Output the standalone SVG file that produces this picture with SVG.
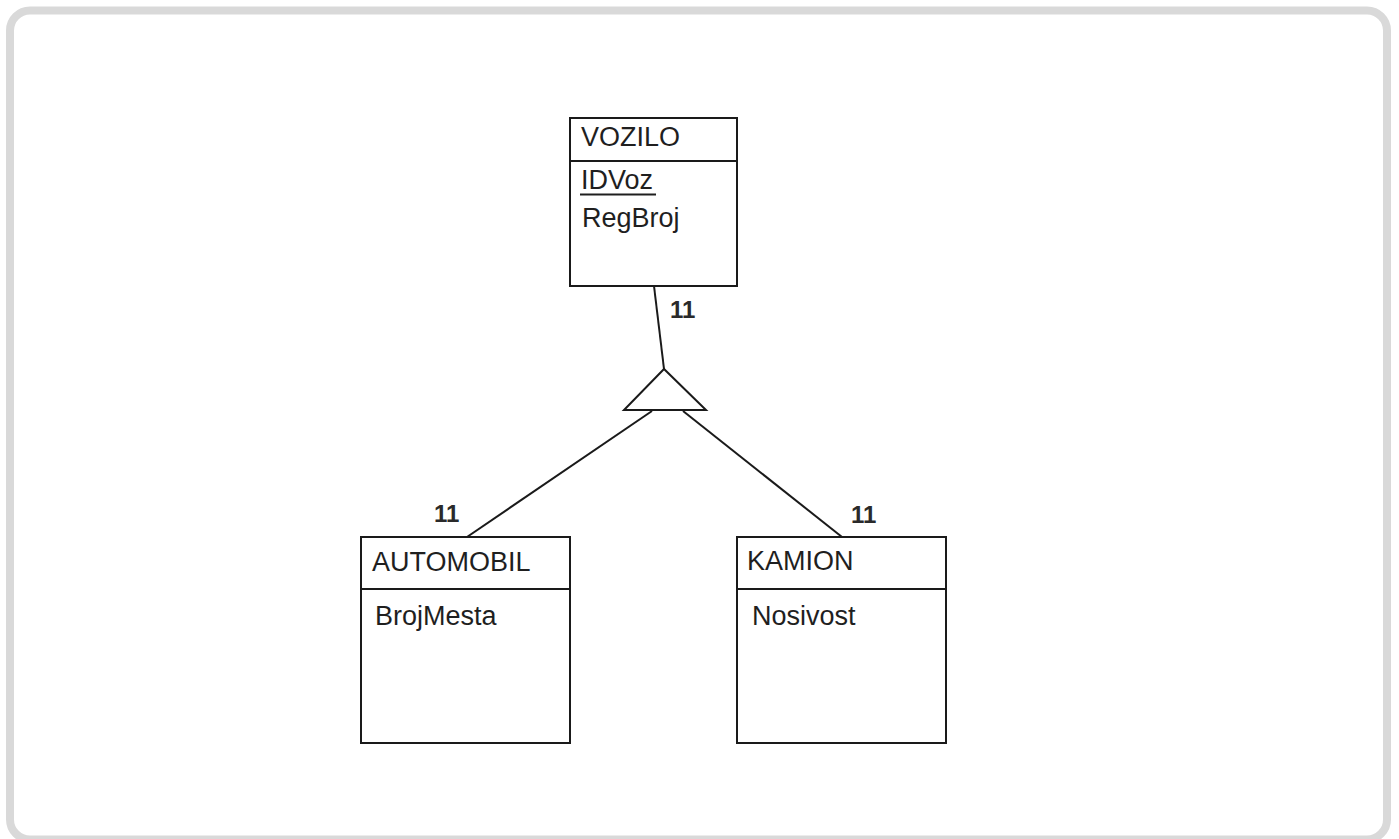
<svg xmlns="http://www.w3.org/2000/svg" width="1399" height="839" viewBox="0 0 1399 839">
<style>
.box{fill:#fff;stroke:#1a1a1a;stroke-width:2}
.sep{stroke:#1a1a1a;stroke-width:2}
.t{font-family:"Liberation Sans",Arial,sans-serif;font-size:27px;fill:#1f1f1f}
.lbl{font-family:"Liberation Sans",Arial,sans-serif;font-size:24px;font-weight:bold;fill:#2a2a2a}
.conn{stroke:#1a1a1a;stroke-width:2;fill:none}
</style>
<rect x="0" y="0" width="1399" height="839" fill="#fff"/>
<rect x="10" y="10.5" width="1377" height="829" rx="20" fill="#fff" stroke="#d9d9d9" stroke-width="8"/>
<g id="connectors">
<line class="conn" x1="654" y1="286" x2="664" y2="369"/>
<polygon class="conn" points="664,369 624,410 706,410" fill="#fff"/>
<line class="conn" x1="652" y1="411" x2="467" y2="537"/>
<line class="conn" x1="683" y1="411" x2="842" y2="537"/>
<text class="lbl" x="670" y="318">11</text>
<text class="lbl" x="434" y="522">11</text>
<text class="lbl" x="851" y="523">11</text>
</g>
<g id="vozilo">
<rect class="box" x="570" y="118" width="167" height="168"/>
<line class="sep" x1="570" y1="161" x2="737" y2="161"/>
<text class="t" x="581" y="146">VOZILO</text>
<text class="t" x="581" y="189">IDVoz</text>
<line x1="580" y1="194.5" x2="656" y2="194.5" stroke="#1f1f1f" stroke-width="2"/>
<text class="t" x="582" y="227">RegBroj</text>
</g>
<g id="automobil">
<rect class="box" x="361" y="537" width="209" height="206"/>
<line class="sep" x1="361" y1="589" x2="570" y2="589"/>
<text class="t" x="372" y="571">AUTOMOBIL</text>
<text class="t" x="375" y="625">BrojMesta</text>
</g>
<g id="kamion">
<rect class="box" x="737" y="537" width="209" height="206"/>
<line class="sep" x1="737" y1="589" x2="946" y2="589"/>
<text class="t" x="747" y="570">KAMION</text>
<text class="t" x="752" y="625">Nosivost</text>
</g>
</svg>
